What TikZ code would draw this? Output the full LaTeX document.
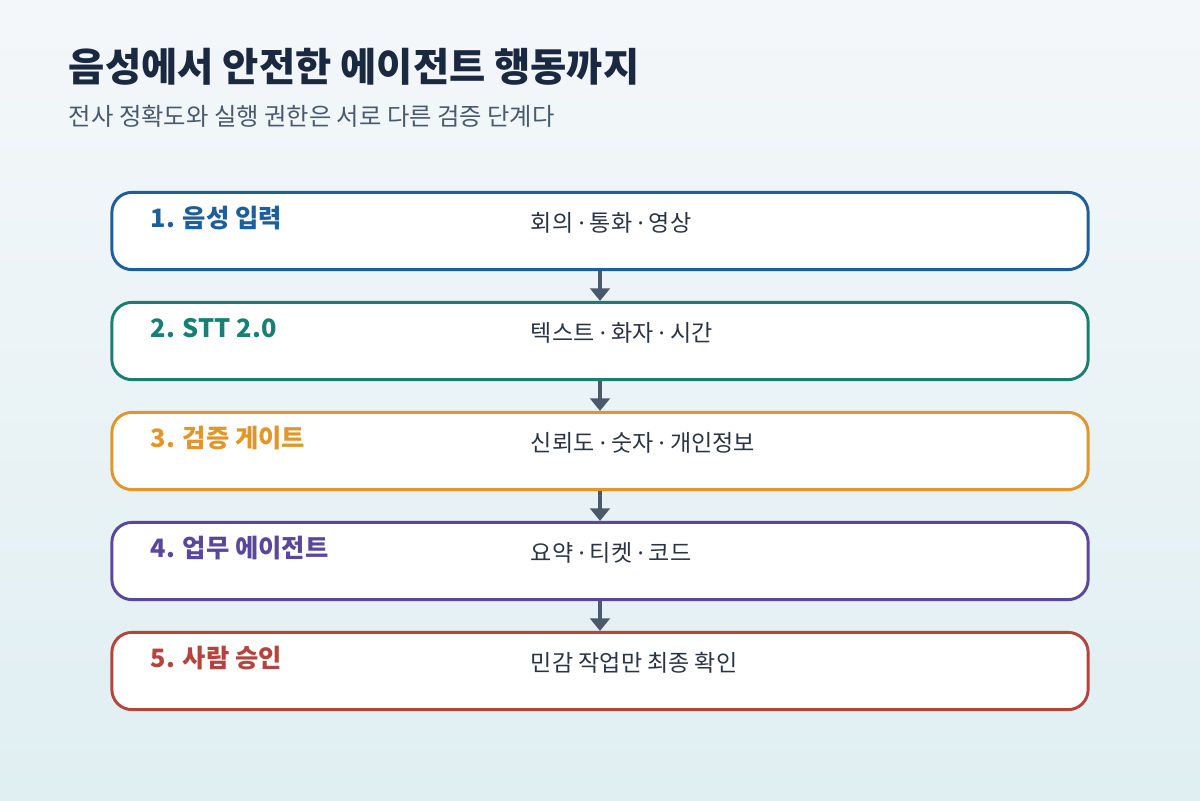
\documentclass[tikz,border=0pt]{standalone}
\usepackage{fontspec}
\setmainfont{Noto Sans CJK KR}
\newfontfamily\latinfont{Noto Sans}
\usepackage{xcolor}
\usepackage{tikz}
\usetikzlibrary{arrows.meta}

\definecolor{bgtop}{HTML}{F4F7FA}
\definecolor{bgbot}{HTML}{E0EFF2}
\definecolor{titlecol}{HTML}{1A2940}
\definecolor{subcol}{HTML}{4A5A6C}
\definecolor{desccol}{HTML}{2A3444}
\definecolor{arrowcol}{HTML}{4A5A6A}
\definecolor{stepone}{HTML}{1F5F99}
\definecolor{steptwo}{HTML}{1A7F72}
\definecolor{stepthree}{HTML}{E0962A}
\definecolor{stepfour}{HTML}{5A479A}
\definecolor{stepfive}{HTML}{B5443F}

% narrow middle dot
\newcommand{\sepdot}{{\latinfont ·}}

\begin{document}
\begin{tikzpicture}[x=0.025cm,y=-0.025cm,
    stagebox/.style={draw=#1, line width=2.1pt, fill=white, rounded corners=0.5cm,
        minimum width=24.4cm, minimum height=1.93cm},
    stagelabel/.style={anchor=west, text=#1, font=\fontsize{18}{20}\selectfont\bfseries},
    stagedesc/.style={anchor=west, text=desccol, font=\fontsize{16.4}{19}\selectfont},
    flowarrow/.style={draw=arrowcol, line width=3pt, -{Triangle[width=14pt,length=9pt]}}
]

% Background
\useasboundingbox (0,0) rectangle (1200,800);
\shade[top color=bgtop, bottom color=bgbot] (0,0) rectangle (1200,800);

% Title and subtitle
\node[anchor=west, text=titlecol, font=\fontsize{28}{32}\selectfont\bfseries] (title) at (64,67)
    {음성에서 안전한 에이전트 행동까지};
\node[anchor=west, text=subcol, font=\fontsize{17.3}{20}\selectfont] (subtitle) at (64,116)
    {전사 정확도와 실행 권한은 서로 다른 검증 단계다};

% Pipeline stages
\foreach \i/\name/\desc/\col in {
    1/{1. 음성 입력}/{회의 \sepdot{} 통화 \sepdot{} 영상}/stepone,
    2/{2. STT 2.0}/{텍스트 \sepdot{} 화자 \sepdot{} 시간}/steptwo,
    3/{3. 검증 게이트}/{신뢰도 \sepdot{} 숫자 \sepdot{} 개인정보}/stepthree,
    4/{4. 업무 에이전트}/{요약 \sepdot{} 티켓 \sepdot{} 코드}/stepfour,
    5/{5. 사람 승인}/{민감 작업만 최종 확인}/stepfive} {
    \node[stagebox=\col] (b\i) at (600,121+110*\i) {};
    \node[stagelabel=\col] (l\i) at (146,108+110*\i) {\name};
    \node[stagedesc] (d\i) at (526,113+110*\i) {\desc};
}

% Arrows between stages
\foreach \i [evaluate=\i as \j using int(\i+1)] in {1,2,3,4} {
    \draw[flowarrow] (b\i.south) -- (b\j.north);
}

\end{tikzpicture}
\end{document}
